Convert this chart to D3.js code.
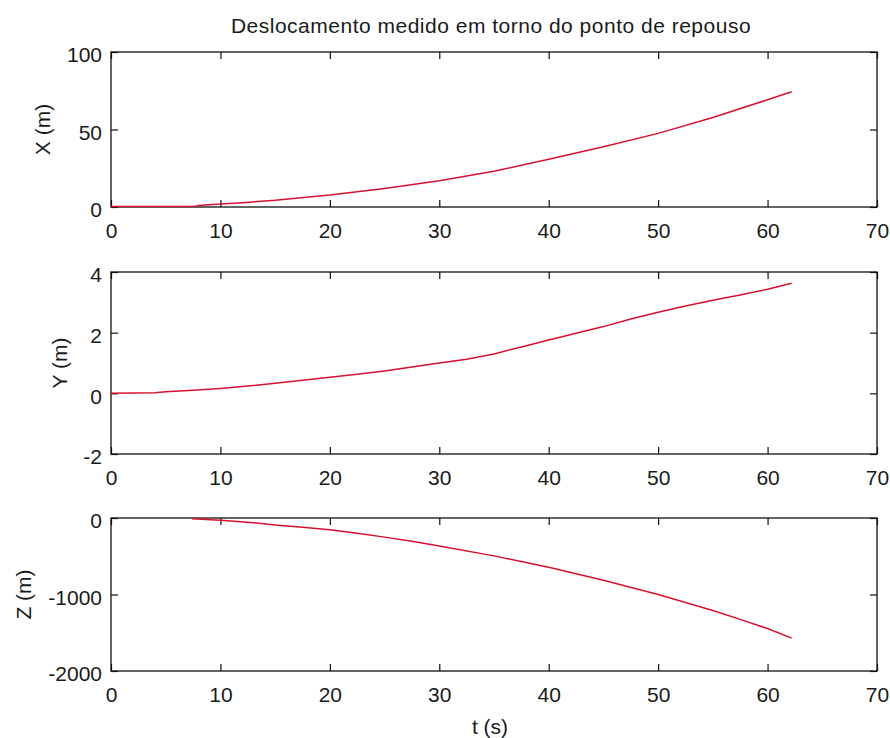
<!DOCTYPE html>
<html>
<head>
<meta charset="utf-8">
<script src="https://cdn.jsdelivr.net/npm/d3@7"></script>
<style>
  html, body { margin: 0; padding: 0; background: #fff; }
  svg { display: block; }
  text { font-family: "Liberation Sans", Arial, Helvetica, sans-serif; fill: #1a1a1a; }
</style>
</head>
<body>
<div id="chart"></div>
<script>
// Time samples (s) and measured displacement for each axis
const tX = [0, 2, 4, 6, 7.6, 8, 10, 12, 15, 20, 25, 30, 35, 40, 45, 50, 55, 60, 62.2];
const valX = [0.3, 0.3, 0.3, 0.3, 0.4, 1.0, 1.9, 2.8, 4.3, 7.7, 12, 17, 23, 30.8, 38.9, 47.5, 57.8, 69.2, 74.4];

const tY = [0, 4, 5, 7.5, 10, 12.5, 15, 17.5, 20, 22.5, 25, 27.5, 30, 32.5, 35, 37.5, 40, 42.5, 45, 47.5, 50, 52.5, 55, 57.5, 60, 62.2];
const valY = [0, 0.02, 0.05, 0.1, 0.16, 0.24, 0.33, 0.43, 0.53, 0.63, 0.74, 0.87, 1.0, 1.12, 1.3, 1.53, 1.76, 1.98, 2.2, 2.45, 2.67, 2.88, 3.07, 3.24, 3.43, 3.63];

const tZ = [7.4, 10, 12.5, 15, 17.5, 20, 22.5, 25, 27.5, 30, 35, 40, 45, 50, 55, 57.5, 60, 62.2];
const valZ = [-10, -30, -55, -90, -120, -155, -200, -250, -305, -365, -495, -645, -815, -1000, -1210, -1325, -1445, -1570];

// Axis tick values
const xTicks = [0, 10, 20, 30, 40, 50, 60, 70];
const yTicksX = [0, 50, 100];
const yTicksY = [-2, 0, 2, 4];
const yTicksZ = [-2000, -1000, 0];

const titleText = "Deslocamento medido em torno do ponto de repouso";
const xLabel = "t (s)";

const W = 890, H = 738;
const left = 111, right = 877;
const FONT = 21;
const TICK = 7;
const RED = "#d8112f";
const fmt = d => String(d);   // plain hyphen for negatives

const svg = d3.select("#chart").append("svg")
  .attr("width", W).attr("height", H);

const x = d3.scaleLinear().domain([0, 70]).range([left, right]);

const panels = [
  { t: tX, v: valX, domain: [0, 100], ticks: yTicksX, top: 52, bottom: 207, label: "X (m)", labelX: 50 },
  { t: tY, v: valY, domain: [-2, 4], ticks: yTicksY, top: 272, bottom: 454, label: "Y (m)", labelX: 67 },
  { t: tZ, v: valZ, domain: [-2000, 0], ticks: yTicksZ, top: 518, bottom: 671, label: "Z (m)", labelX: 31 }
];

panels.forEach(p => {
  const y = d3.scaleLinear().domain(p.domain).range([p.bottom, p.top]);
  const g = svg.append("g");

  // inward ticks on all four sides
  const tickAxes = [
    { ax: d3.axisBottom(x).tickValues(xTicks), tr: `translate(0,${p.bottom})` },
    { ax: d3.axisTop(x).tickValues(xTicks), tr: `translate(0,${p.top})` },
    { ax: d3.axisLeft(y).tickValues(p.ticks), tr: `translate(${left},0)` },
    { ax: d3.axisRight(y).tickValues(p.ticks), tr: `translate(${right},0)` }
  ];
  tickAxes.forEach(a => {
    const ga = g.append("g").attr("transform", a.tr)
      .call(a.ax.tickSize(-TICK).tickFormat(""));
    ga.select(".domain").remove();
    ga.selectAll(".tick line").attr("stroke", "#111").attr("stroke-width", 1.2);
  });

  // tick labels
  const bx = g.append("g").attr("transform", `translate(0,${p.bottom})`)
    .call(d3.axisBottom(x).tickValues(xTicks).tickSize(0).tickPadding(16).tickFormat(fmt));
  bx.select(".domain").remove();
  bx.selectAll("text").attr("font-size", FONT).attr("font-family", null).attr("fill", "#1a1a1a");

  const ly = g.append("g").attr("transform", `translate(${left},0)`)
    .call(d3.axisLeft(y).tickValues(p.ticks).tickSize(0).tickPadding(9).tickFormat(fmt));
  ly.select(".domain").remove();
  ly.selectAll("text").attr("font-size", FONT).attr("font-family", null).attr("fill", "#1a1a1a").attr("dy", "0.47em");

  // axes box
  g.append("rect")
    .attr("x", left).attr("y", p.top)
    .attr("width", right - left).attr("height", p.bottom - p.top)
    .attr("fill", "none").attr("stroke", "#111").attr("stroke-width", 1.3);

  // y label
  g.append("text")
    .attr("transform", `translate(${p.labelX},${(p.top + p.bottom) / 2}) rotate(-90)`)
    .attr("text-anchor", "middle")
    .attr("font-size", FONT)
    .text(p.label);

  // data line
  const pts = p.t.map((t, i) => [t, p.v[i]]);
  g.append("path")
    .datum(pts)
    .attr("fill", "none")
    .attr("stroke", RED)
    .attr("stroke-width", 1.5)
    .attr("d", d3.line().x(d => x(d[0])).y(d => y(d[1])));
});

// title
svg.append("text")
  .attr("x", (left + right) / 2 - 3).attr("y", 32.7)
  .attr("text-anchor", "middle")
  .attr("font-size", FONT)
  .attr("letter-spacing", "0.5px")
  .text(titleText);

// x label
svg.append("text")
  .attr("x", 490).attr("y", 734)
  .attr("text-anchor", "middle")
  .attr("font-size", FONT)
  .text(xLabel);
</script>
</body>
</html>
